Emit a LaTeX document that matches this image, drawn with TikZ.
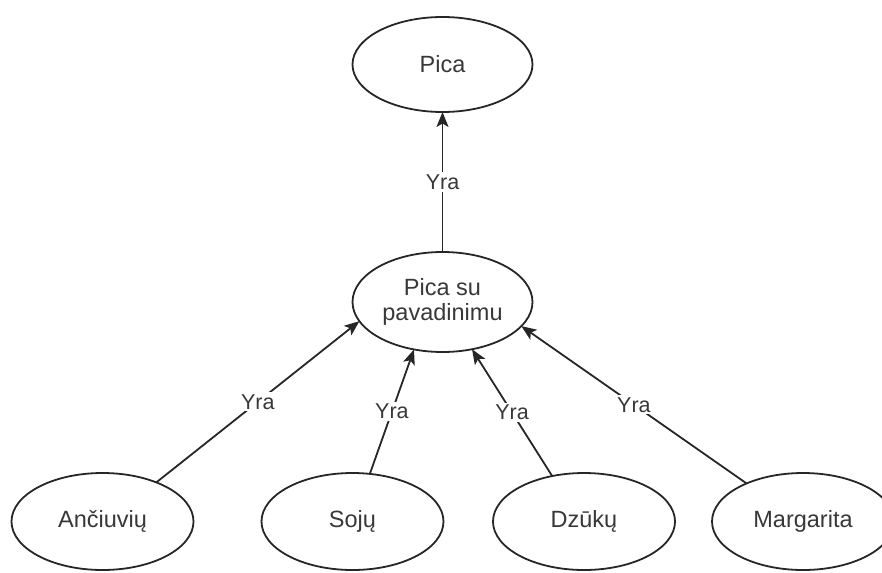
\documentclass[tikz,border=0pt]{standalone}
\usepackage{fontspec}
\setmainfont{Liberation Sans}
\usetikzlibrary{arrows.meta,shapes.geometric}
\begin{document}
\begin{tikzpicture}[x=1pt,y=-1pt,
  entity/.style={ellipse, draw=black!85, line width=1.8pt, text=black!78,
    font=\fontsize{23.5}{25}\selectfont, inner sep=0pt, outer sep=0pt, align=center},
  leaf/.style={entity, minimum width=182pt, minimum height=97pt},
  isa/.style={draw=black!85, line width=1.8pt,
    -{Stealth[length=15pt,width=12pt,inset=3.5pt]}},
  lbl/.style={fill=white, text=black!78, font=\fontsize{21.5}{24}\selectfont, inner sep=2pt}]
\useasboundingbox (0,0) rectangle (882,572);
\clip (0,0) rectangle (882,572);

% top concept and its named subclass
\node[entity, minimum width=180pt, minimum height=95pt] (pica) at (442.5,64.5) {Pica};
\node[entity, minimum width=180pt, minimum height=100pt] (named) at (442.5,302) {Pica su\\pavadinimu};

% concrete pizzas
\node[leaf] (anc) at (102.5,521.5) {Ančiuvių};
\node[leaf] (soj) at (352.5,521.5) {Sojų};
\node[leaf] (dzu) at (584,521.5) {Dzūkų};
\node[leaf] (mar) at (803,521.5) {Margarita};

% "is a" links
\draw[isa] (named.north) -- node[lbl] {Yra} (pica.south);
\draw[isa] (anc.36) -- node[lbl] {Yra} (named.193);
\draw[isa] (soj.70) -- node[lbl] {Yra} (named.239);
\draw[isa] (dzu.125) -- node[lbl] {Yra} (named.302);
\draw[isa] (mar.146) -- node[lbl] {Yra} (named.343);
\end{tikzpicture}
\end{document}
